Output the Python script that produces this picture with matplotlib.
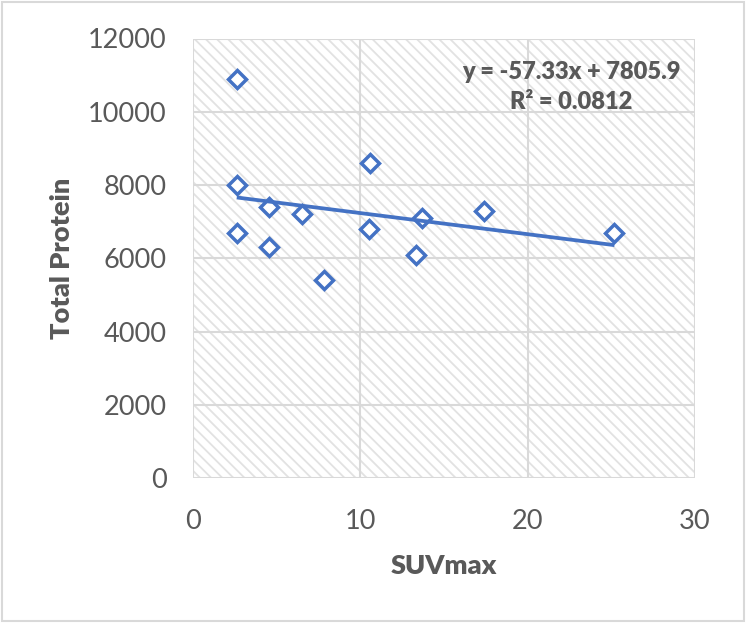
import numpy as np
import matplotlib
matplotlib.use("Agg")
import matplotlib.pyplot as plt
from matplotlib.patches import Rectangle

# Data
suvmax = [2.6, 2.6, 2.6, 4.5, 4.5, 6.5, 7.85, 10.6, 10.5, 13.3, 13.7, 17.4, 25.2]
total_protein = [10900, 8000, 6700, 7400, 6300, 7200, 5400, 8600, 6800, 6100, 7100, 7300, 6700]
x_ticks = [0, 10, 20, 30]
y_ticks = [0, 2000, 4000, 6000, 8000, 10000, 12000]
equation_text = "y = -57.33x + 7805.9\nR² = 0.0812"
x_label = "SUVmax"
y_label = "Total Protein"

plt.rcParams['font.family'] = ['Lato', 'DejaVu Sans']
plt.rcParams['hatch.color'] = '#e2e2e2'
plt.rcParams['hatch.linewidth'] = 1.3

blue = '#4472C4'
gray_text = '#595959'
grid_col = '#d9d9d9'

fig = plt.figure(figsize=(7.5, 6.28), dpi=100)
fig.patches.append(Rectangle((1.5/750, 1 - 621/628), 742/750, 619.5/628,
                             transform=fig.transFigure, fill=False,
                             edgecolor=grid_col, linewidth=1.5))

ax = fig.add_axes([193.3/750, 1 - 478/628, 501.4/750, 439.5/628])
ax.set_xlim(0, 30)
ax.set_ylim(0, 12000)
ax.patch.set_facecolor('white')
ax.patch.set_hatch('\\\\\\')
ax.patch.set_edgecolor('#e2e2e2')
ax.patch.set_linewidth(0)

for s in ax.spines.values():
    s.set_visible(False)
ax.set_xticks(x_ticks)
ax.set_yticks(y_ticks)
ax.grid(True, color=grid_col, linewidth=1.5)
ax.set_axisbelow(True)
ax.tick_params(length=0, labelsize=19.5, labelcolor=gray_text)
ax.tick_params(axis='y', pad=19)
ax.tick_params(axis='x', pad=22)

x = np.array(suvmax)
y = np.array(total_protein)
ax.plot(x, y, linestyle='none', marker='D', markersize=9,
        markerfacecolor='white', markeredgecolor=blue, markeredgewidth=2.5, zorder=3)

slope, intercept = np.polyfit(x, y, 1)
xs = np.array([x.min(), x.max()])
ax.plot(xs, slope * xs + intercept, color=blue, linewidth=2.7, zorder=4,
        solid_capstyle='butt')

ax.text((571.5 - 193.3) / 501.4, (478 - 86.7) / 439.5, equation_text,
        transform=ax.transAxes, ha='center', va='center', multialignment='center',
        fontsize=17, fontweight='heavy', color=gray_text, linespacing=1.45)

ax.set_xlabel(x_label, fontsize=19.5, fontweight='heavy', color=gray_text)
ax.set_ylabel(y_label, fontsize=19.5, fontweight='heavy', color=gray_text)
ax.xaxis.set_label_coords(0.5, -(566 - 478) / 439.5)
ax.yaxis.set_label_coords((62 - 193.3) / 501.4, 0.5)
ax.xaxis.label.set_va('center')
ax.yaxis.label.set_va('center')

fig.savefig('out.png', dpi=100)
